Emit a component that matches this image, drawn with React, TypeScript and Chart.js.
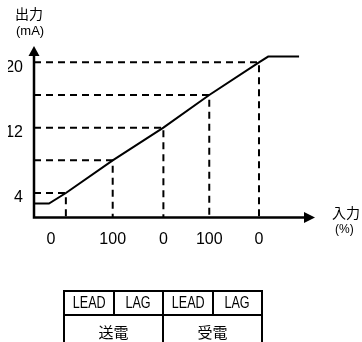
import React, { useEffect, useRef } from "react";
import { Chart, registerables } from "chart.js";

Chart.register(...registerables);

// ---- data ----
const outputTicks = [4, 12, 20];
const inputTickPositions = [0.35, 1.63, 2.68, 3.63, 4.66];
const inputTickLabels = ["0", "100", "0", "100", "0"];
const curveX = [0, 0.31, 0.66, 1.63, 2.68, 3.63, 4.66, 4.85, 5.49];
const curveY = [2.7, 2.7, 4, 8, 12, 16, 20, 20.7, 20.7];
const guideX = [0.66, 1.63, 2.68, 3.63, 4.66];
const guideY = [4, 8, 12, 16, 20];
const tableTop = ["LEAD", "LAG", "LEAD", "LAG"];
const tableBottom = ["送電", "受電"];
const X_MIN = 0;
const X_MAX = 5.82;
const Y_MIN = 1;
const Y_MAX = 22;

const NARROW = '"Liberation Sans Narrow", "Liberation Sans", sans-serif';
const CJK = '"Noto Sans CJK JP", sans-serif';

const axisArrows = {
  id: "axisArrows",
  afterDatasetsDraw(chart: any) {
    const { ctx } = chart;
    const xs = chart.scales.x;
    const ys = chart.scales.y;
    const ox = xs.getPixelForValue(X_MIN);
    const oy = ys.getPixelForValue(Y_MIN);
    const top = ys.getPixelForValue(Y_MAX);
    const right = xs.getPixelForValue(X_MAX);
    ctx.save();
    ctx.strokeStyle = "#000";
    ctx.fillStyle = "#000";
    ctx.lineWidth = 2.5;
    ctx.beginPath();
    ctx.moveTo(ox, oy + 1.25);
    ctx.lineTo(ox, top + 8);
    ctx.moveTo(ox - 1.25, oy);
    ctx.lineTo(right - 8, oy);
    ctx.stroke();
    ctx.beginPath();
    ctx.moveTo(ox, top);
    ctx.lineTo(ox - 5.5, top + 10);
    ctx.lineTo(ox + 5.5, top + 10);
    ctx.closePath();
    ctx.fill();
    ctx.beginPath();
    ctx.moveTo(right, oy);
    ctx.lineTo(right - 11, oy - 5.5);
    ctx.lineTo(right - 11, oy + 5.5);
    ctx.closePath();
    ctx.fill();
    ctx.restore();
  },
};

function buildGuides() {
  const pts: { x: number; y: number | null }[] = [];
  guideX.forEach((gx, i) => {
    pts.push({ x: X_MIN, y: guideY[i] });
    pts.push({ x: gx, y: guideY[i] });
    pts.push({ x: gx, y: Y_MIN });
    pts.push({ x: gx, y: null });
  });
  return pts;
}

function ChartCanvas() {
  const ref = useRef<HTMLCanvasElement>(null);
  useEffect(() => {
    if (!ref.current) return;
    const chart = new Chart(ref.current, {
      type: "line",
      data: {
        datasets: [
          {
            data: curveX.map((x, i) => ({ x, y: curveY[i] })),
            borderColor: "#000",
            borderWidth: 2,
            pointRadius: 0,
            fill: false,
            tension: 0,
            order: 0,
            clip: false as any,
          },
          {
            data: buildGuides(),
            borderColor: "#000",
            borderWidth: 2,
            borderDash: [7, 5],
            pointRadius: 0,
            fill: false,
            spanGaps: false,
            order: 1,
            clip: false as any,
          },
        ],
      },
      options: {
        animation: false,
        responsive: false,
        maintainAspectRatio: false,
        layout: { padding: { left: 8, right: 47, top: 46, bottom: 84.5 } },
        plugins: { legend: { display: false }, tooltip: { enabled: false } },
        scales: {
          x: {
            type: "linear",
            min: X_MIN,
            max: X_MAX,
            grid: { display: false, drawTicks: false },
            border: { display: false },
            afterBuildTicks: (s: any) => {
              s.ticks = inputTickPositions.map((v) => ({ value: v }));
            },
            afterFit: (s: any) => {
              s.height = 40;
            },
            ticks: {
              padding: 12,
              autoSkip: false,
              maxRotation: 0,
              color: "#000",
              font: { family: NARROW, size: 16 },
              callback: (_v: any, i: number) => inputTickLabels[i],
            },
          },
          y: {
            type: "linear",
            min: Y_MIN,
            max: Y_MAX,
            grid: { display: false, drawTicks: false },
            border: { display: false },
            afterBuildTicks: (s: any) => {
              s.ticks = outputTicks.map((v) => ({ value: v }));
            },
            afterFit: (s: any) => {
              s.width = 26;
            },
            ticks: {
              padding: 11,
              labelOffset: 5,
              autoSkip: false,
              color: "#000",
              font: { family: NARROW, size: 16 },
              callback: (v: any) => String(v),
            },
          },
        },
      },
      plugins: [axisArrows],
    });
    return () => chart.destroy();
  }, []);
  return (
    <canvas
      ref={ref}
      width={362}
      height={342}
      style={{ position: "absolute", left: 0, top: 0, width: 362, height: 342 }}
    />
  );
}

const label = (text: string, left: number, top: number, size: number, family: string) => (
  <div
    style={{
      position: "absolute",
      left,
      top,
      fontSize: size,
      fontFamily: family,
      lineHeight: 1,
      color: "#000",
      whiteSpace: "nowrap",
    }}
  >
    {text}
  </div>
);

export default function App() {
  const cellTop: React.CSSProperties = {
    border: "2px solid #000",
    height: 22,
    padding: 0,
    textAlign: "center",
    fontFamily: NARROW,
    fontSize: 17,
    lineHeight: "22px",
    overflow: "hidden",
  };
  const cellBottom: React.CSSProperties = {
    border: "2px solid #000",
    height: 30,
    padding: 0,
    textAlign: "center",
    verticalAlign: "top",
    fontFamily: CJK,
    fontSize: 15,
    lineHeight: "32px",
  };
  return (
    <div
      style={{
        position: "absolute",
        left: 0,
        top: 0,
        width: 362,
        height: 342,
        overflow: "hidden",
        background: "#fff",
      }}
    >
      <ChartCanvas />
      {label("出力", 15, 6, 14, CJK)}
      {label("(mA)", 16, 24, 13, NARROW)}
      {label("入力", 332, 205, 14, CJK)}
      {label("(%)", 335, 223, 12, NARROW)}
      <table
        style={{
          position: "absolute",
          left: 63,
          top: 290,
          borderCollapse: "collapse",
          tableLayout: "fixed",
          width: 199,
        }}
      >
        <colgroup>
          {tableTop.map((_, i) => (
            <col key={i} style={{ width: 49.5 }} />
          ))}
        </colgroup>
        <tbody>
          <tr>
            {tableTop.map((t, i) => (
              <td key={i} style={cellTop}>
                <span style={{ display: "inline-block", transform: "scaleX(0.74)" }}>{t}</span>
              </td>
            ))}
          </tr>
          <tr>
            {tableBottom.map((t, i) => (
              <td key={i} colSpan={2} style={cellBottom}>
                {t}
              </td>
            ))}
          </tr>
        </tbody>
      </table>
    </div>
  );
}
